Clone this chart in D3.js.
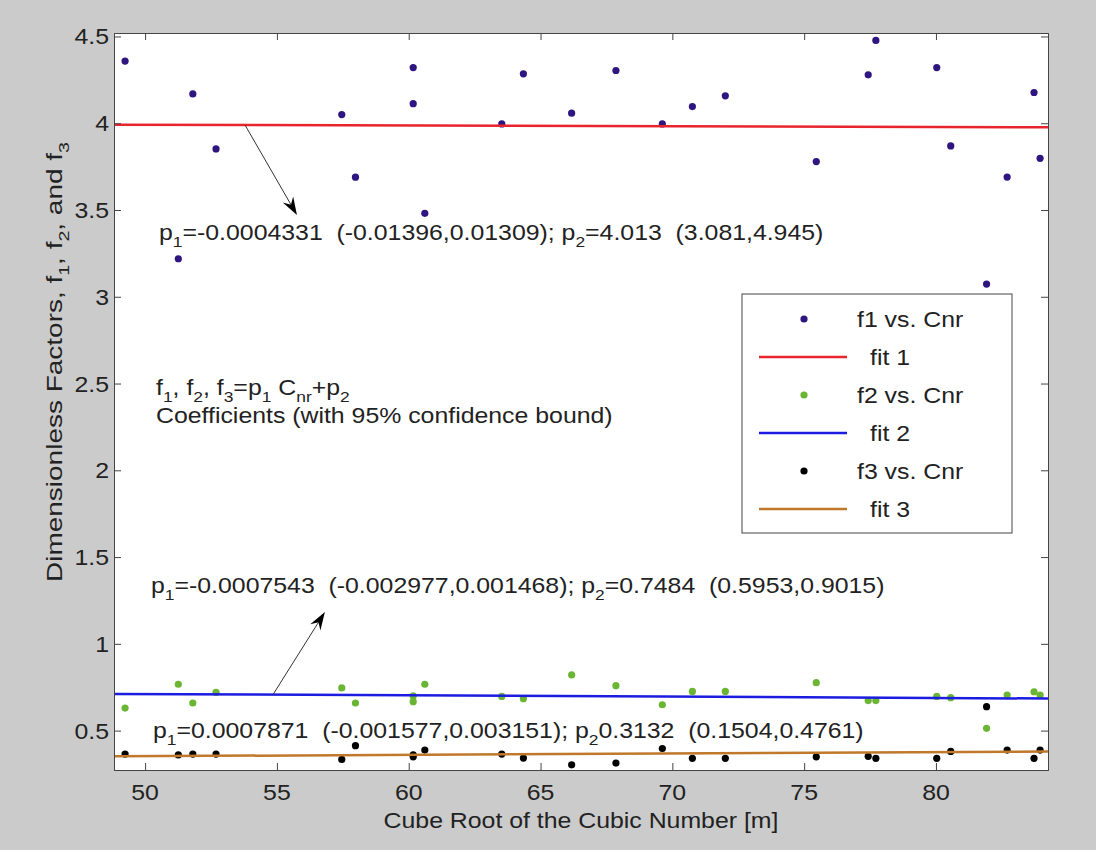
<!DOCTYPE html>
<html>
<head>
<meta charset="utf-8">
<script src="https://cdn.jsdelivr.net/npm/d3@7"></script>
<style>
  body { margin: 0; background: #cbcbcb; }
  svg { display: block; }
  text { font-family: "Liberation Sans", Arial, sans-serif; fill: #222; white-space: pre; }
</style>
</head>
<body>
<svg width="1096" height="850"></svg>
<script>
// data
var cnr = [49.24, 51.26, 51.81, 52.69, 57.46, 57.98, 60.17, 60.17, 60.61, 63.53, 64.35, 66.18, 67.86,
           69.62, 70.76, 72.01, 75.46, 77.43, 77.72, 80.03, 80.56, 81.92, 82.70, 83.72, 83.95];
var f1 = [4.358, 3.219, 4.169, 3.852, 4.050, 3.689, 4.321, 4.113, 3.481, 3.996, 4.285, 4.058, 4.304,
          3.996, 4.096, 4.158, 3.779, 4.279, 4.477, 4.321, 3.869, 3.073, 3.690, 4.177, 3.798];
var f2 = [0.630, 0.767, 0.659, 0.720, 0.746, 0.659, 0.667, 0.700, 0.767, 0.697, 0.684, 0.821, 0.759,
          0.649, 0.726, 0.726, 0.776, 0.673, 0.673, 0.697, 0.690, 0.513, 0.705, 0.724, 0.705];
var f3 = [0.365, 0.360, 0.365, 0.365, 0.334, 0.413, 0.349, 0.360, 0.388, 0.365, 0.342, 0.303, 0.313,
          0.397, 0.340, 0.340, 0.349, 0.352, 0.340, 0.340, 0.380, 0.638, 0.388, 0.340, 0.388];
var fitP1 = [-0.0004331, -0.0007543, 0.0007871];
var fitP2 = [4.013, 0.7484, 0.3132];
var xTicks = [50, 55, 60, 65, 70, 75, 80];
var yTicks = [0.5, 1, 1.5, 2, 2.5, 3, 3.5, 4, 4.5];
var legendNames = ["f1 vs. Cnr", "fit 1", "f2 vs. Cnr", "fit 2", "f3 vs. Cnr", "fit 3"];

var svg = d3.select("svg"),
    pLeft = 114, pRight = 1048, pTop = 33, pBottom = 770,
    FS = 22.2, STRETCH = 1.12;

var x = d3.scaleLinear().domain([48.82, 84.25]).range([pLeft, pRight]);
var y = d3.scaleLinear().domain([0.273, 4.52]).range([pBottom, pTop]);

var dotColors = ["#2e1580", "#6bb535", "#000000"];
var lineColors = ["#e8242c", "#1c1ce0", "#c0782a"];

// text helper, "_{..}" -> subscript
function addText(parent, px, py, str, anchor, rot, sx) {
    var t = parent.append("text")
        .attr("transform", "translate(" + px + "," + py + ")" + (rot ? " rotate(" + rot + ")" : "") + " scale(" + (sx || STRETCH) + ",1)")
        .attr("font-size", FS)
        .attr("text-anchor", anchor || "start");
    var parts = str.split(/(_\{[^}]*\})/), down = false;
    parts.forEach(function (p) {
        if (p === "") return;
        if (p.indexOf("_{") === 0) {
            t.append("tspan").attr("font-size", FS * 0.7).attr("dy", 7).text(p.slice(2, -1));
            down = true;
        } else {
            t.append("tspan").attr("dy", down ? -7 : 0).text(p);
            down = false;
        }
    });
    return t;
}

// plot area
svg.append("rect").attr("x", pLeft).attr("y", pTop)
    .attr("width", pRight - pLeft).attr("height", pBottom - pTop)
    .attr("fill", "#fff");

var plot = svg.append("g");
var series = [f1, f2, f3];
series.forEach(function (vals, k) {
    plot.append("g").selectAll("circle")
        .data(cnr.map(function (c, i) { return [c, vals[i]]; }))
        .enter().append("circle")
        .attr("cx", function (d) { return x(d[0]); })
        .attr("cy", function (d) { return y(d[1]); })
        .attr("r", 3.6)
        .attr("fill", dotColors[k]);
    var xs = x.domain();
    plot.append("path")
        .datum(xs.map(function (v) { return [v, fitP1[k] * v + fitP2[k]]; }))
        .attr("d", d3.line().x(function (d) { return x(d[0]); }).y(function (d) { return y(d[1]); }))
        .attr("stroke", lineColors[k])
        .attr("stroke-width", 2.5)
        .attr("fill", "none");
});

// axes, ticks inside on all four sides
var axes = svg.append("g");
axes.append("g").attr("transform", "translate(0," + pBottom + ")")
    .call(d3.axisBottom(x).tickValues(xTicks).tickSize(-7).tickFormat(""));
axes.append("g").attr("transform", "translate(0," + pTop + ")")
    .call(d3.axisTop(x).tickValues(xTicks).tickSize(-7).tickFormat(""));
axes.append("g").attr("transform", "translate(" + pLeft + ",0)")
    .call(d3.axisLeft(y).tickValues(yTicks).tickSize(-7).tickFormat(""));
axes.append("g").attr("transform", "translate(" + pRight + ",0)")
    .call(d3.axisRight(y).tickValues(yTicks).tickSize(-7).tickFormat(""));
axes.selectAll(".domain").attr("stroke", "#444");
axes.selectAll(".tick line").attr("stroke", "#444");

xTicks.forEach(function (v) { addText(svg, x(v), 800, String(v), "middle"); });
yTicks.forEach(function (v) { addText(svg, pLeft - 5, y(v) + 8, String(v), "end"); });

addText(svg, (pLeft + pRight) / 2, 828, "Cube Root of the Cubic Number [m]", "middle");
addText(svg, 62, 362, "Dimensionless Factors, f_{1}, f_{2}, and f_{3}", "middle", -90, 1.26);

// annotations
addText(svg, 159, 240, "p_{1}=-0.0004331  (-0.01396,0.01309); p_{2}=4.013  (3.081,4.945)");
addText(svg, 151, 593, "p_{1}=-0.0007543  (-0.002977,0.001468); p_{2}=0.7484  (0.5953,0.9015)");
addText(svg, 153, 738, "p_{1}=0.0007871  (-0.001577,0.003151); p_{2}0.3132  (0.1504,0.4761)");
addText(svg, 156, 395, "f_{1}, f_{2}, f_{3}=p_{1} C_{nr}+p_{2}");
addText(svg, 156, 423, "Coefficients (with 95% confidence bound)");

function arrow(x0, y0, x1, y1) {
    var a = Math.atan2(y1 - y0, x1 - x0), L = 18, W = 6;
    svg.append("line").attr("x1", x0).attr("y1", y0).attr("x2", x1 - Math.cos(a) * 10).attr("y2", y1 - Math.sin(a) * 10)
        .attr("stroke", "#333").attr("stroke-width", 1);
    var bx = x1 - Math.cos(a) * L, by = y1 - Math.sin(a) * L;
    svg.append("path")
        .attr("d", "M" + x1 + "," + y1 +
            "L" + (bx - Math.sin(a) * W) + "," + (by + Math.cos(a) * W) +
            "L" + (x1 - Math.cos(a) * 12) + "," + (y1 - Math.sin(a) * 12) +
            "L" + (bx + Math.sin(a) * W) + "," + (by - Math.cos(a) * W) + "Z")
        .attr("fill", "#000");
}
arrow(x(53.79), y(fitP1[0] * 53.79 + fitP2[0]), x(55.76), y(3.471));
arrow(x(54.85), y(fitP1[1] * 54.85 + fitP2[1]), x(56.82), y(1.183));

// legend
var lg = svg.append("g");
lg.append("rect").attr("x", 742).attr("y", 294).attr("width", 270).attr("height", 239)
    .attr("fill", "#fff").attr("stroke", "#444").attr("stroke-width", 1);
legendNames.forEach(function (name, i) {
    var ly = 319 + i * 38, k = Math.floor(i / 2);
    if (i % 2 === 0) {
        lg.append("circle").attr("cx", 804).attr("cy", ly).attr("r", 3.6).attr("fill", dotColors[k]);
        addText(lg, 857, ly + 8, name);
    } else {
        lg.append("line").attr("x1", 759).attr("x2", 847).attr("y1", ly).attr("y2", ly)
            .attr("stroke", lineColors[k]).attr("stroke-width", 2.5);
        addText(lg, 870, ly + 8, name);
    }
});
</script>
</body>
</html>
